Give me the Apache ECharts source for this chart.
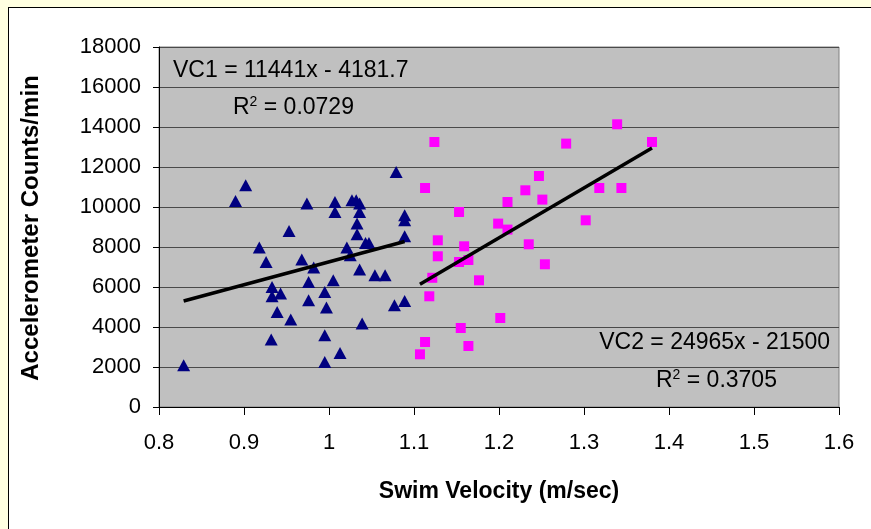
<!DOCTYPE html>
<html>
<head>
<meta charset="utf-8">
<script src="https://cdn.jsdelivr.net/npm/echarts@6/dist/echarts.min.js"></script>
<style>
  html, body { margin: 0; padding: 0; background: #FFFFE1; overflow: hidden; }
  #panel { position: absolute; left: 8px; top: 7px; width: 900px; height: 600px;
           background: #fff; border-left: 1px solid #000; border-top: 1px solid #000; }
  #chart { position: absolute; left: 0; top: 0; width: 871px; height: 529px; }
</style>
</head>
<body>
<div id="panel"></div>
<div id="chart"></div>
<script>
// VC1 swimmers (triangles): [velocity m/s, counts/min]
const vc1Points = [
  [0.829, 2085], [0.890, 10300], [0.902, 11085], [0.974, 10170], [1.007, 10250],
  [1.007, 9750], [1.027, 10335], [1.032, 10335], [1.036, 10170], [1.036, 9750],
  [1.033, 9170], [1.033, 8635], [1.079, 11750], [1.089, 9585], [1.089, 9335],
  [1.089, 8535], [1.043, 8200], [1.047, 8200], [1.021, 7970], [1.025, 7585],
  [0.953, 8800], [0.918, 7970], [0.926, 7250], [0.968, 7370], [0.982, 6970],
  [0.976, 6250], [1.005, 6335], [0.933, 6000], [0.933, 5535], [0.943, 5670],
  [0.995, 5750], [0.976, 5335], [0.997, 4970], [0.939, 4750], [0.955, 4370],
  [1.036, 6870], [1.054, 6585], [1.066, 6585], [1.077, 5085], [1.089, 5300],
  [1.039, 4170], [0.932, 3370], [0.995, 3585], [1.013, 2700], [0.995, 2250]
]
// VC2 swimmers (squares)
const vc2Points = [
  [1.124, 13250], [1.279, 13170], [1.339, 14135], [1.380, 13250], [1.113, 10950],
  [1.247, 11550], [1.231, 10835], [1.210, 10250], [1.251, 10370], [1.318, 10950],
  [1.344, 10950], [1.153, 9750], [1.302, 9335], [1.199, 9170], [1.210, 8870],
  [1.128, 8335], [1.159, 8035], [1.128, 7535], [1.235, 8135], [1.153, 7250],
  [1.164, 7350], [1.254, 7135], [1.1215, 6460], [1.1765, 6335], [1.118, 5535],
  [1.2015, 4450], [1.155, 3950], [1.113, 3250], [1.164, 3050], [1.107, 2635]
]
// trend line end points
const vc1Trend = [[0.829, 5303], [1.089, 8278]]
const vc2Trend = [[1.107, 6136], [1.380, 12952]]

const vc1Label = 'VC1 = 11441x - 4181.7'
const vc1R2 = '0.0729'
const vc2Label = 'VC2 = 24965x - 21500'
const vc2R2 = '0.3705'

const font = 'Liberation Sans, Arial, sans-serif'

const myChart = echarts.init(document.getElementById('chart'), null, { renderer: 'canvas' })

const r2Text = (v) => ({
  text: '{a|R}{s|2}{a| = ' + v + '}',
  font: '23px ' + font,
  fill: '#000',
  rich: {
    a: { fontSize: 23, fontFamily: font, fill: '#000', lineHeight: 26 },
    s: { fontSize: 14, fontFamily: font, fill: '#000', verticalAlign: 'top', lineHeight: 26 }
  }
})

const option = {
  backgroundColor: 'transparent',
  animation: false,
  grid: {
    left: 159, right: 32, top: 47, bottom: 122,
    show: true, backgroundColor: '#C0C0C0', borderColor: '#808080', borderWidth: 1
  },
  xAxis: {
    type: 'value', min: 0.8, max: 1.6, interval: 0.1,
    axisLine: { onZero: false, lineStyle: { color: '#000', width: 1 } },
    axisTick: { show: true, length: 8, lineStyle: { color: '#000' } },
    axisLabel: { color: '#000', fontSize: 22, fontFamily: font, margin: 25 },
    splitLine: { show: false }
  },
  yAxis: {
    type: 'value', min: 0, max: 18000, interval: 2000,
    axisLine: { show: true, lineStyle: { color: '#000', width: 1 } },
    axisTick: { show: true, length: 6, lineStyle: { color: '#000' } },
    axisLabel: { color: '#000', fontSize: 22, fontFamily: font, margin: 18,
                 formatter: (v) => String(v) },
    splitLine: { show: true, lineStyle: { color: '#4a4a4a', width: 1 } }
  },
  series: [
    {
      name: 'VC1', type: 'scatter', data: vc1Points, symbol: 'triangle',
      symbolSize: [13, 12], itemStyle: { color: '#000080', opacity: 1 }, z: 3
    },
    {
      name: 'VC2', type: 'scatter', data: vc2Points, symbol: 'rect',
      symbolSize: 10, itemStyle: { color: '#FF00FF', opacity: 1 }, z: 3
    },
    {
      name: 'VC1 trend', type: 'line', data: vc1Trend, symbol: 'none',
      lineStyle: { color: '#000', width: 3.5 }, z: 4
    },
    {
      name: 'VC2 trend', type: 'line', data: vc2Trend, symbol: 'none',
      lineStyle: { color: '#000', width: 3.5 }, z: 4
    }
  ],
  graphic: [
    { type: 'text', left: 173, top: 59, z: 10,
      style: { text: vc1Label, font: '23px ' + font, fill: '#000' } },
    { type: 'text', left: 233, top: 95, z: 10, style: r2Text(vc1R2) },
    { type: 'text', right: 41, top: 331, z: 10,
      style: { text: vc2Label, font: '23px ' + font, fill: '#000' } },
    { type: 'text', left: 656, top: 368, z: 10, style: r2Text(vc2R2) },
    { type: 'text', x: 499, y: 492, z: 10,
      style: { text: 'Swim Velocity (m/sec)', font: 'bold 23px ' + font, fill: '#000',
               align: 'center', verticalAlign: 'middle' } },
    { type: 'text', x: 31, y: 228, rotation: Math.PI / 2, z: 10,
      style: { text: 'Accelerometer Counts/min', font: 'bold 24px ' + font, fill: '#000',
               align: 'center', verticalAlign: 'middle' } }
  ]
}

myChart.setOption(option)
window.addEventListener('resize', () => myChart.resize())
</script>
</body>
</html>
